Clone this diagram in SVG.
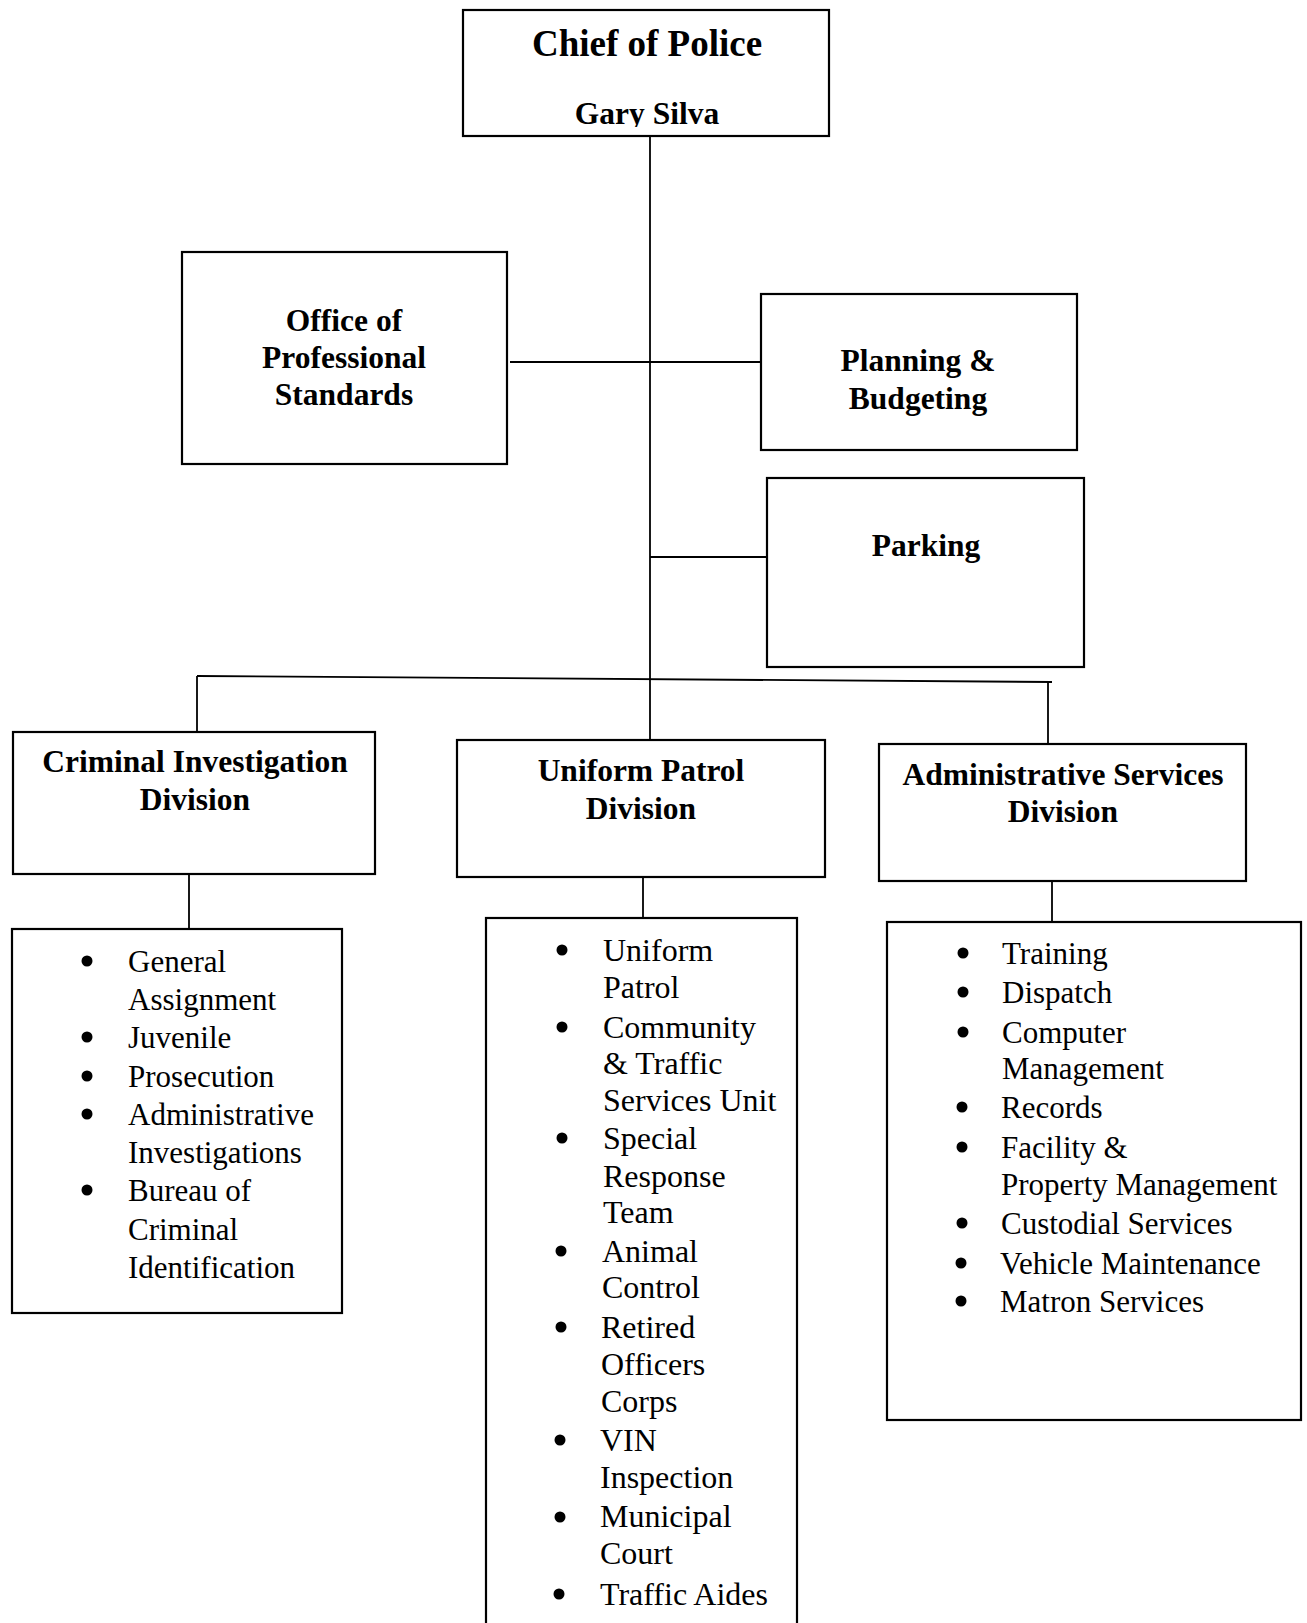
<svg xmlns="http://www.w3.org/2000/svg" width="1307" height="1623" viewBox="0 0 1307 1623">
<style>
.box{fill:#fff;stroke:#000;stroke-width:2.2}
.ln{stroke:#000;stroke-width:1.8;fill:none}
.h{font-family:"Liberation Serif","Times New Roman",serif;font-weight:bold;font-size:31.5px;text-anchor:middle;fill:#000}
.big{font-size:37px}
.t{font-family:"Liberation Serif","Times New Roman",serif;font-size:31px;fill:#000}
.u{font-family:"Liberation Serif","Times New Roman",serif;font-size:32px;fill:#000}
.b{fill:#000}
</style>
<defs>
<clipPath id="chiefclip"><rect x="463" y="10" width="366" height="117"/></clipPath>
</defs>
<rect width="1307" height="1623" fill="#fff"/>
<g id="connectors">
<line class="ln" x1="650" y1="136" x2="650" y2="740"/>
<line class="ln" x1="510" y1="362" x2="761" y2="362"/>
<line class="ln" x1="650" y1="557" x2="767" y2="557"/>
<line class="ln" x1="197" y1="676" x2="1052" y2="682"/>
<line class="ln" x1="197" y1="676" x2="197" y2="732"/>
<line class="ln" x1="1048" y1="682" x2="1048" y2="744"/>
<line class="ln" x1="189" y1="874" x2="189" y2="929"/>
<line class="ln" x1="643" y1="877" x2="643" y2="918"/>
<line class="ln" x1="1052" y1="881" x2="1052" y2="922"/>
</g>
<g id="chief">
<rect class="box" x="463" y="10" width="366" height="126"/>
<text class="h big" x="647" y="56">Chief of Police</text>
<text class="h" x="647" y="124" clip-path="url(#chiefclip)">Gary Silva</text>
</g>
<g id="ops">
<rect class="box" x="182" y="252" width="325" height="212"/>
<text class="h" x="344" y="331">Office of</text>
<text class="h" x="344" y="368">Professional</text>
<text class="h" x="344" y="405">Standards</text>
</g>
<g id="planning">
<rect class="box" x="761" y="294" width="316" height="156"/>
<text class="h" x="918" y="371">Planning &amp;</text>
<text class="h" x="918" y="409">Budgeting</text>
</g>
<g id="parking">
<rect class="box" x="767" y="478" width="317" height="189"/>
<text class="h" x="926" y="556">Parking</text>
</g>
<g id="cid">
<rect class="box" x="13" y="732" width="362" height="142"/>
<text class="h" x="195" y="772">Criminal Investigation</text>
<text class="h" x="195" y="810">Division</text>
</g>
<g id="upd">
<rect class="box" x="457" y="740" width="368" height="137"/>
<text class="h" x="641" y="781">Uniform Patrol</text>
<text class="h" x="641" y="819">Division</text>
</g>
<g id="asd">
<rect class="box" x="879" y="744" width="367" height="137"/>
<text class="h" x="1063" y="785">Administrative Services</text>
<text class="h" x="1063" y="822">Division</text>
</g>
<g id="cid-list">
<rect class="box" x="12" y="929" width="330" height="384"/>
<circle class="b" cx="87" cy="961" r="5.5"/>
<text class="t" x="128" y="972">General</text>
<text class="t" x="128" y="1010">Assignment</text>
<circle class="b" cx="87" cy="1037" r="5.5"/>
<text class="t" x="128" y="1048">Juvenile</text>
<circle class="b" cx="87" cy="1076" r="5.5"/>
<text class="t" x="128" y="1087">Prosecution</text>
<circle class="b" cx="87" cy="1114" r="5.5"/>
<text class="t" x="128" y="1125">Administrative</text>
<text class="t" x="128" y="1163">Investigations</text>
<circle class="b" cx="87" cy="1190" r="5.5"/>
<text class="t" x="128" y="1201">Bureau of</text>
<text class="t" x="128" y="1240">Criminal</text>
<text class="t" x="128" y="1278">Identification</text>
</g>
<g id="upd-list">
<rect class="box" x="486" y="918" width="311" height="708"/>
<circle class="b" cx="562" cy="950" r="5.5"/>
<text class="u" x="603" y="961">Uniform</text>
<text class="u" x="603" y="998">Patrol</text>
<circle class="b" cx="562" cy="1027" r="5.5"/>
<text class="u" x="603" y="1038">Community</text>
<text class="u" x="603" y="1074">&amp; Traffic</text>
<text class="u" x="603" y="1111">Services Unit</text>
<circle class="b" cx="562" cy="1138" r="5.5"/>
<text class="u" x="603" y="1149">Special</text>
<text class="u" x="603" y="1187">Response</text>
<text class="u" x="603" y="1223">Team</text>
<circle class="b" cx="561" cy="1251" r="5.5"/>
<text class="u" x="602" y="1262">Animal</text>
<text class="u" x="602" y="1298">Control</text>
<circle class="b" cx="561" cy="1327" r="5.5"/>
<text class="u" x="601" y="1338">Retired</text>
<text class="u" x="601" y="1375">Officers</text>
<text class="u" x="601" y="1412">Corps</text>
<circle class="b" cx="560" cy="1440" r="5.5"/>
<text class="u" x="600" y="1451">VIN</text>
<text class="u" x="600" y="1488">Inspection</text>
<circle class="b" cx="560" cy="1517" r="5.5"/>
<text class="u" x="600" y="1527">Municipal</text>
<text class="u" x="600" y="1564">Court</text>
<circle class="b" cx="559" cy="1594" r="5.5"/>
<text class="u" x="600" y="1605">Traffic Aides</text>
</g>
<g id="asd-list">
<rect class="box" x="887" y="922" width="414" height="498"/>
<circle class="b" cx="963" cy="953" r="5.5"/>
<text class="t" x="1002" y="964">Training</text>
<circle class="b" cx="963" cy="992" r="5.5"/>
<text class="t" x="1002" y="1003">Dispatch</text>
<circle class="b" cx="963" cy="1032" r="5.5"/>
<text class="t" x="1002" y="1043">Computer</text>
<text class="t" x="1002" y="1079">Management</text>
<circle class="b" cx="962" cy="1107" r="5.5"/>
<text class="t" x="1001" y="1118">Records</text>
<circle class="b" cx="962" cy="1147" r="5.5"/>
<text class="t" x="1001" y="1158">Facility &amp;</text>
<text class="t" x="1001" y="1195">Property Management</text>
<circle class="b" cx="962" cy="1223" r="5.5"/>
<text class="t" x="1001" y="1234">Custodial Services</text>
<circle class="b" cx="961" cy="1263" r="5.5"/>
<text class="t" x="1000" y="1274">Vehicle Maintenance</text>
<circle class="b" cx="961" cy="1301" r="5.5"/>
<text class="t" x="1000" y="1312">Matron Services</text>
</g>
</svg>
